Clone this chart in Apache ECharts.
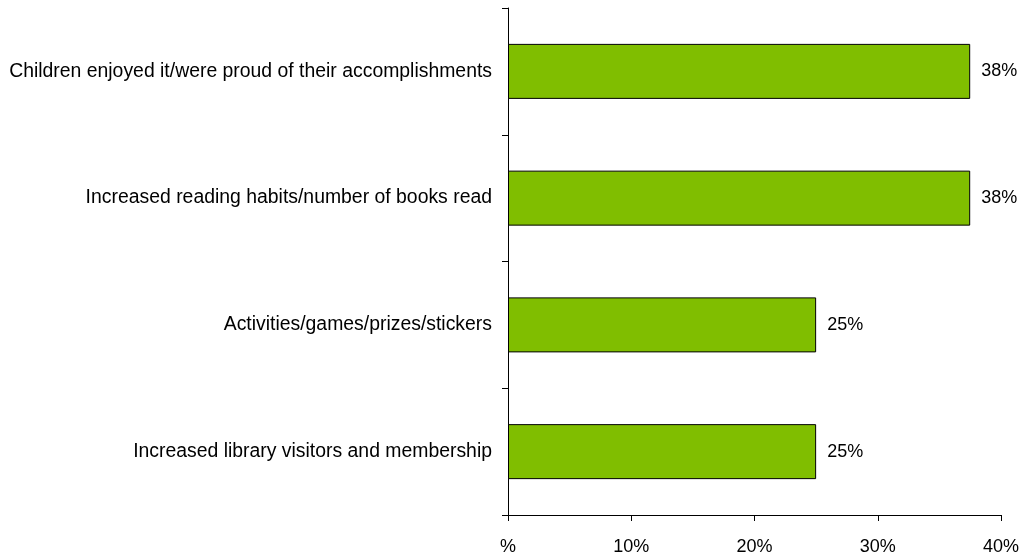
<!DOCTYPE html>
<html>
<head>
<meta charset="utf-8">
<script src="https://cdn.jsdelivr.net/npm/echarts@6/dist/echarts.min.js"></script>
<style>
html,body{margin:0;padding:0;background:#fff;}
#c{width:1025px;height:556px;}
</style>
</head>
<body>
<div id="c"></div>
<script>
const categories = [
  "Children enjoyed it/were proud of their accomplishments",
  "Increased reading habits/number of books read",
  "Activities/games/prizes/stickers",
  "Increased library visitors and membership"
];
const values = [37.5, 37.5, 25, 25];
const xTicks = [0, 10, 20, 30, 40];

const chart = echarts.init(document.getElementById('c'), null, {renderer: 'canvas'});
const font = 'Liberation Sans, Arial, sans-serif';
chart.setOption({
  animation: false,
  backgroundColor: '#fff',
  grid: {left: 508, right: 24, top: 8, bottom: 40, containLabel: false},
  xAxis: {
    type: 'value', min: xTicks[0], max: xTicks[xTicks.length - 1], interval: 10,
    axisLine: {show: true, lineStyle: {color: '#000', width: 1}},
    axisTick: {show: true, length: 6, lineStyle: {color: '#000'}},
    splitLine: {show: false},
    axisLabel: {color: '#000', fontFamily: font, fontSize: 18, margin: 23,
      formatter: v => v === 0 ? '%' : v + '%'}
  },
  yAxis: {
    type: 'category', data: categories, inverse: true,
    axisLine: {show: true, lineStyle: {color: '#000', width: 1}},
    axisTick: {show: true, length: 6, lineStyle: {color: '#000'}},
    axisLabel: {color: '#000', fontFamily: font, fontSize: 19.4, margin: 16}
  },
  series: [{
    type: 'bar', data: values, barWidth: 55,
    itemStyle: {color: '#80BE00', borderColor: '#000', borderWidth: 1},
    label: {show: true, position: 'right', distance: 11, color: '#000',
      fontFamily: font, fontSize: 18,
      formatter: p => Math.round(p.value) + '%'}
  }]
});
</script>
</body>
</html>
